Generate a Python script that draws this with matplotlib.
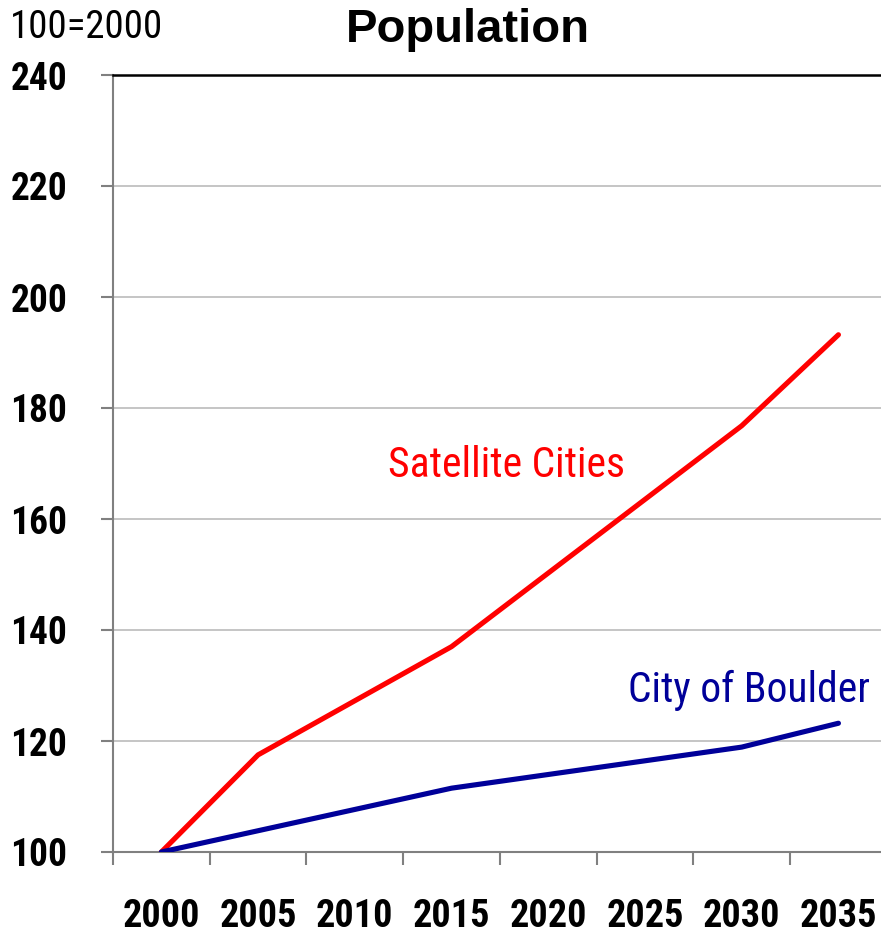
import matplotlib.pyplot as plt
from matplotlib.ticker import FixedLocator

# index, 100 = 2000
sat_years = [2000, 2005, 2015, 2030, 2035]
satellite = [100, 117.5, 137, 176.8, 193.2]
boulder_years = [2000, 2015, 2030, 2035]
boulder = [100, 111.5, 118.9, 123.2]
label_years = [2000, 2005, 2010, 2015, 2020, 2025, 2030, 2035]
y_ticks = [100, 120, 140, 160, 180, 200, 220, 240]

# no Arial Narrow here, take the narrowest family that exists
narrow = ['Liberation Sans Narrow', 'Roboto Condensed', 'Roboto', 'DejaVu Sans']

fig = plt.figure(figsize=(8.81, 9.33), dpi=100)
ax = fig.add_axes([113 / 881, 1 - 852 / 933, 1 - 113 / 881, 777 / 933])

ax.plot(sat_years, satellite, color='#FF0000', lw=3.7, solid_capstyle='round', zorder=3)
ax.plot(boulder_years, boulder, color='#000099', lw=3.7, solid_capstyle='round', zorder=3)

ax.set_xlim(1997.5, 2037.2)
ax.set_ylim(100, 240)

# category style x axis: ticks between labels
ax.xaxis.set_major_locator(FixedLocator([1997.5 + 5 * i for i in range(9)]))
ax.xaxis.set_minor_locator(FixedLocator(label_years))
ax.set_xticklabels([])
ax.set_xticklabels([str(y) for y in label_years], minor=True,
                   family=narrow, fontweight='bold', fontsize=27.5)
ax.tick_params(axis='x', which='major', length=9, width=1.5, color='#808080', direction='out')
ax.tick_params(axis='x', which='minor', length=0, pad=33)

ax.set_yticks(y_ticks)
ax.set_yticklabels([str(v) for v in y_ticks], family=narrow, fontweight='bold', fontsize=27)
ax.tick_params(axis='y', length=9, width=1.5, color='#808080', pad=24)

ax.grid(axis='y', color='#C0C0C0', lw=1.3)
ax.set_axisbelow(True)
for s in ['left', 'bottom']:
    ax.spines[s].set_color('#808080')
    ax.spines[s].set_linewidth(1.5)
ax.spines['top'].set_color('black')
ax.spines['top'].set_linewidth(1.8)
ax.spines['right'].set_visible(False)

ax.text(2011.7, 169.7, 'Satellite Cities', color='#FF0000', family=narrow,
        fontsize=30, ha='left', va='center')
ax.text(2024.1, 129.2, 'City of Boulder', color='#000099', family=narrow,
        fontsize=30, ha='left', va='center')

fig.text(468 / 881, 1 - 30 / 933, 'Population', family=['Liberation Sans', 'DejaVu Sans'],
         fontweight='bold', fontsize=34, ha='center', va='center')
fig.text(10 / 881, 1 - 28 / 933, '100=2000', family=narrow, fontsize=28,
         ha='left', va='center')

fig.savefig('out.png', dpi=100)
